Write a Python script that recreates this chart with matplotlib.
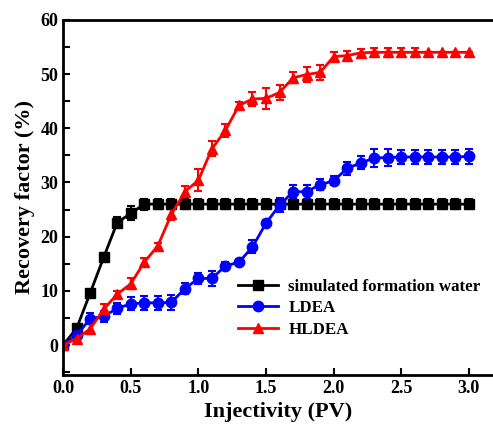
import numpy as np
import matplotlib.pyplot as plt
from matplotlib.ticker import MultipleLocator

plt.rcParams['font.family'] = 'Liberation Serif'
plt.rcParams['font.weight'] = 'bold'

pv = np.round(np.arange(0, 3.01, 0.1), 1)

water = [0, 3.1, 9.6, 16.2, 22.6, 24.3, 26.0, 26.0, 26.0, 26.0, 26.0, 26.0, 26.0, 26.0, 26.0, 26.0,
         26.0, 26.0, 26.0, 26.0, 26.0, 26.0, 26.0, 26.0, 26.0, 26.0, 26.0, 26.0, 26.0, 26.0, 26.0]
water_err = [0.3, 0.5, 0.4, 0.8, 1.0, 1.3, 1.0, 0.9, 0.9, 0.9, 0.9, 0.9, 0.9, 0.9, 0.9, 0.9,
             0.9, 0.9, 0.9, 0.9, 0.9, 0.9, 0.9, 0.9, 0.9, 0.9, 0.9, 0.9, 0.9, 0.9, 0.9]

ldea = [0, 1.8, 4.9, 5.3, 6.8, 7.6, 7.8, 7.8, 7.9, 10.4, 12.3, 12.3, 14.6, 15.3, 18.1, 22.5,
        25.8, 28.3, 28.3, 29.6, 30.3, 32.6, 33.6, 34.5, 34.6, 34.7, 34.7, 34.7, 34.7, 34.7, 34.8]
ldea_err = [0.3, 0.6, 1.0, 1.0, 1.0, 1.2, 1.3, 1.3, 1.4, 1.0, 1.0, 1.4, 0.8, 0.6, 1.2, 0.6,
            1.3, 1.2, 1.3, 1.0, 0.8, 1.2, 1.2, 1.6, 1.5, 1.3, 1.3, 1.3, 1.3, 1.3, 1.4]

hldea = [0, 1.2, 3.0, 6.6, 9.4, 11.3, 15.3, 18.3, 24.1, 28.3, 30.4, 36.2, 39.6, 44.2, 45.4, 45.5,
         46.6, 49.3, 49.9, 50.3, 53.2, 53.4, 53.9, 54.0, 54.0, 54.0, 54.0, 54.0, 54.0, 54.0, 54.0]
hldea_err = [0.3, 0.6, 1.0, 1.0, 0.6, 1.0, 0.8, 0.6, 1.0, 1.0, 2.0, 1.4, 1.2, 0.6, 1.3, 2.0,
             1.4, 1.0, 1.3, 1.4, 0.8, 0.8, 0.8, 0.8, 0.8, 0.8, 0.8, 0.0, 0.0, 0.0, 0.0]

fig = plt.figure(figsize=(4.93, 4.30), dpi=100)
ax = fig.add_axes([0.128, 0.128, 0.872, 0.826])

ax.errorbar(pv, water, yerr=water_err, color='black', marker='s', ms=6.5, lw=2,
            capsize=3, elinewidth=1.5, capthick=1.5, label='simulated formation water')
ax.errorbar(pv, ldea, yerr=ldea_err, color='blue', marker='o', ms=7.5, lw=2,
            capsize=3, elinewidth=1.5, capthick=1.5, label='LDEA')
ax.errorbar(pv, hldea, yerr=hldea_err, color='red', marker='^', ms=7.5, lw=2,
            capsize=3, elinewidth=1.5, capthick=1.5, label='HLDEA')

ax.set_xlim(0, 3.178)
ax.set_ylim(-5.5, 60)
ax.xaxis.set_major_locator(MultipleLocator(0.5))
ax.yaxis.set_major_locator(MultipleLocator(10))
ax.yaxis.set_minor_locator(MultipleLocator(5))
ax.tick_params(direction='in', length=5, width=1.5, labelsize=13)
ax.tick_params(which='minor', direction='in', length=5, width=1.5)
ax.set_xticklabels([f'{v:.1f}' for v in ax.get_xticks()])
ax.spines['right'].set_visible(False)
for s in ['left', 'bottom', 'top']:
    ax.spines[s].set_linewidth(2)

ax.set_xlabel('Injectivity (PV)', fontsize=16, fontweight='bold', labelpad=4)
ax.set_ylabel('Recovery factor (%)', fontsize=16, fontweight='bold', labelpad=4)

handles, labels = ax.get_legend_handles_labels()
handles = [h[0] for h in handles]
ax.legend(handles, labels, loc='upper left', bbox_to_anchor=(0.39, 0.29),
          frameon=False, fontsize=12.2, handlelength=2.4, labelspacing=0.32,
          handletextpad=0.6, borderaxespad=0)

fig.savefig('out.png', dpi=100)
